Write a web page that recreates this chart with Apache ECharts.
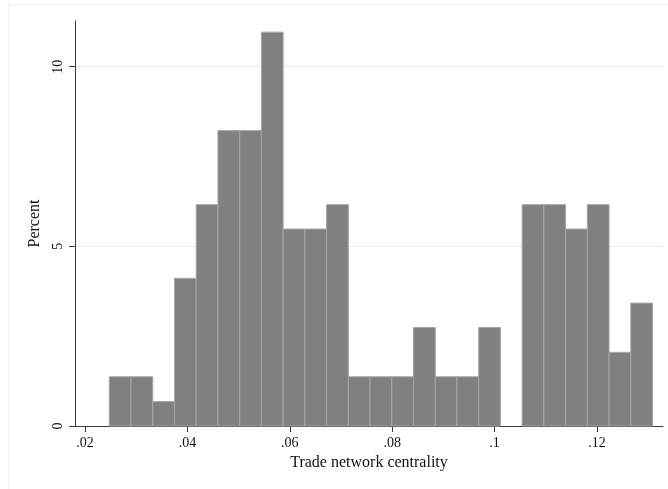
<!DOCTYPE html>
<html>
<head>
<meta charset="utf-8">
<script src="https://cdn.jsdelivr.net/npm/echarts@6/dist/echarts.min.js"></script>
<style>
  html, body { margin: 0; padding: 0; background: #ffffff; }
  #chart { width: 668px; height: 489px; }
</style>
</head>
<body>
<div id="chart"></div>
<script>
// Histogram of trade network centrality (percent of observations per bin)
const binStart = 0.02475;
const binWidth = 0.004244;
const percent = [
  1.37, 1.37, 0.68, 4.11, 6.16, 8.22, 8.22, 10.96, 5.48, 5.48,
  6.16, 1.37, 1.37, 1.37, 2.74, 1.37, 1.37, 2.74, 0, 6.16,
  6.16, 5.48, 6.16, 2.05, 3.42
];
const xTicks = [0.02, 0.04, 0.06, 0.08, 0.1, 0.12];
const yTicks = [0, 5, 10];
const xRange = [0.01805, 0.1329];
const yMax = 11.27;

const fmtX = v => String(+v.toFixed(2)).replace(/^0\./, '.');

const bins = percent.map((p, i) => [binStart + i * binWidth, binStart + (i + 1) * binWidth, p]);

const serif = '"Liberation Serif", "DejaVu Serif", serif';
const axisColor = '#3a3a3a';

const chart = echarts.init(document.getElementById('chart'), null, { renderer: 'canvas' });
chart.setOption({
  animation: false,
  backgroundColor: '#ffffff',
  graphic: [{
    type: 'rect',
    shape: { x: 8.5, y: 4.5, width: 700, height: 600 },
    style: { fill: 'none', stroke: '#eef1f1', lineWidth: 1 },
    silent: true,
    z: -1
  }],
  grid: { left: 75, right: 5, top: 21, bottom: 63 },
  xAxis: {
    type: 'value',
    min: xRange[0],
    max: xRange[1],
    name: 'Trade network centrality',
    nameLocation: 'middle',
    nameGap: 29,
    nameTextStyle: { fontFamily: serif, fontSize: 16, color: '#111' },
    axisLine: { show: true, onZero: false, lineStyle: { color: axisColor, width: 1 } },
    axisTick: { show: true, length: 6, customValues: xTicks, lineStyle: { color: axisColor } },
    axisLabel: {
      customValues: xTicks,
      formatter: fmtX,
      fontFamily: serif, fontSize: 14, color: '#111', margin: 10
    },
    splitLine: { show: false }
  },
  yAxis: {
    type: 'value',
    min: 0,
    max: yMax,
    name: 'Percent',
    nameLocation: 'middle',
    nameGap: 31,
    nameRotate: 90,
    nameTextStyle: { fontFamily: serif, fontSize: 16, color: '#111' },
    axisLine: { show: true, lineStyle: { color: axisColor, width: 1 } },
    axisTick: { show: true, length: 6, customValues: yTicks, lineStyle: { color: axisColor } },
    axisLabel: {
      customValues: yTicks,
      rotate: 90,
      fontFamily: serif, fontSize: 14, color: '#111', margin: 10
    },
    splitLine: { show: false }
  },
  series: [{
    type: 'custom',
    data: bins,
    encode: { x: [0, 1], y: 2 },
    renderItem: function (params, api) {
      const p0 = api.coord([api.value(0), 0]);
      const p1 = api.coord([api.value(1), api.value(2)]);
      if (api.value(2) <= 0) return null;
      return {
        type: 'rect',
        shape: { x: p0[0], y: p1[1], width: p1[0] - p0[0], height: p0[1] - p1[1] },
        style: { fill: '#808080', stroke: '#a6a6a6', lineWidth: 1 }
      };
    },
    markLine: {
      silent: true,
      symbol: 'none',
      label: { show: false },
      lineStyle: { color: '#e4eef1', width: 1, type: 'solid' },
      z: -1,
      data: yTicks.filter(v => v > 0).map(v => ({ yAxis: v }))
    },
    z: 2
  }]
});
</script>
</body>
</html>
